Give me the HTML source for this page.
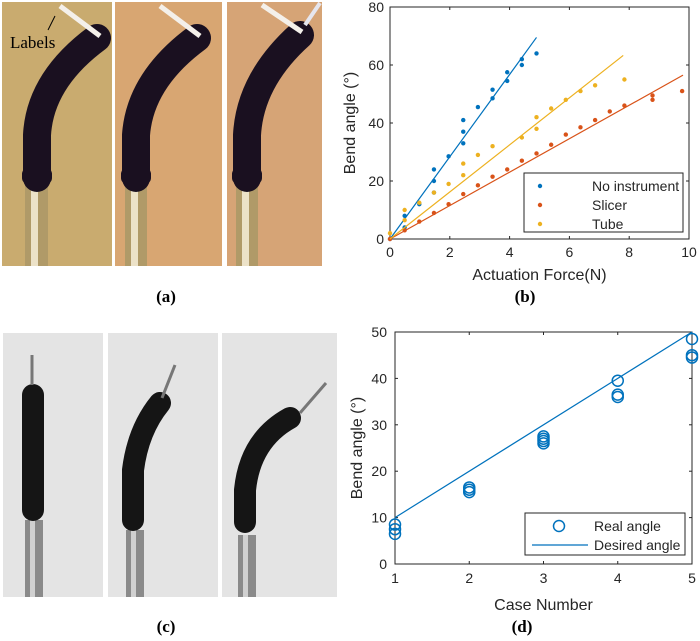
<!DOCTYPE html>
<html><head><meta charset="utf-8"><style>
html,body{margin:0;padding:0;background:#fff;width:700px;height:641px;overflow:hidden}
svg{position:absolute;left:0;top:0}
</style></head><body>
<svg width="700" height="641" viewBox="0 0 700 641" font-family="Liberation Sans, sans-serif">
<!-- photos (a) -->
<g>
<rect x="2" y="2" width="110" height="264" fill="#c9ab6f"/>
<rect x="25" y="185" width="23" height="81" fill="#b09a68"/><rect x="31" y="185" width="7" height="81" fill="#ece2c8"/>
<path d="M37 178 L37 135 Q40 80 97 38" stroke="#1a1020" stroke-width="28" fill="none" stroke-linecap="round"/>
<rect x="22" y="168" width="30" height="16" rx="6" fill="#1a1020"/>
<line x1="60" y1="6" x2="100" y2="36" stroke="#f4f0ea" stroke-width="5"/>
<line x1="55" y1="16" x2="48" y2="30" stroke="#000"/>
<text x="10" y="48" font-family="Liberation Serif, serif" font-size="17" fill="#000">Labels</text>
</g>
<g>
<rect x="115" y="2" width="107" height="264" fill="#d8a672"/>
<rect x="125" y="185" width="22" height="81" fill="#b09a68"/><rect x="131" y="185" width="7" height="81" fill="#ece2c8"/>
<path d="M136 178 L136 135 Q140 80 197 38" stroke="#1a1020" stroke-width="28" fill="none" stroke-linecap="round"/>
<rect x="121" y="168" width="30" height="16" rx="6" fill="#1a1020"/>
<line x1="160" y1="6" x2="200" y2="36" stroke="#f4f0ea" stroke-width="5"/>
</g>
<g>
<rect x="227" y="2" width="95" height="264" fill="#d6a476"/>
<rect x="236" y="185" width="22" height="81" fill="#b09a68"/><rect x="242" y="185" width="7" height="81" fill="#ece2c8"/>
<path d="M247 178 L247 135 Q250 80 300 35" stroke="#1a1020" stroke-width="28" fill="none" stroke-linecap="round"/>
<rect x="232" y="168" width="30" height="16" rx="6" fill="#1a1020"/>
<line x1="262" y1="5" x2="302" y2="32" stroke="#f4f0ea" stroke-width="5"/>
<line x1="305" y1="25" x2="320" y2="3" stroke="#e6e6ee" stroke-width="4"/>
</g>
<text x="166" y="302" text-anchor="middle" font-family="Liberation Serif, serif" font-weight="bold" font-size="17">(a)</text>
<!-- photos (c) -->
<g>
<rect x="3" y="333" width="100" height="264" fill="#e4e4e4"/>
<rect x="25" y="520" width="18" height="77" fill="#8a8a8a"/><rect x="30" y="520" width="5" height="77" fill="#d0d0d0"/>
<path d="M33 395 L33 510" stroke="#151515" stroke-width="22" fill="none" stroke-linecap="round"/>
<line x1="32" y1="385" x2="32" y2="355" stroke="#777" stroke-width="3"/>
</g>
<g>
<rect x="108" y="333" width="110" height="264" fill="#e4e4e4"/>
<rect x="126" y="530" width="18" height="67" fill="#8a8a8a"/><rect x="131" y="530" width="5" height="67" fill="#d0d0d0"/>
<path d="M133 520 L133 470 Q138 430 160 403" stroke="#151515" stroke-width="22" fill="none" stroke-linecap="round"/>
<line x1="162" y1="398" x2="175" y2="365" stroke="#777" stroke-width="3"/>
</g>
<g>
<rect x="222" y="333" width="115" height="264" fill="#e4e4e4"/>
<rect x="238" y="535" width="18" height="62" fill="#8a8a8a"/><rect x="243" y="535" width="5" height="62" fill="#d0d0d0"/>
<path d="M245 522 L245 490 Q250 440 290 418" stroke="#151515" stroke-width="22" fill="none" stroke-linecap="round"/>
<line x1="300" y1="413" x2="326" y2="383" stroke="#777" stroke-width="3"/>
</g>
<text x="166" y="632" text-anchor="middle" font-family="Liberation Serif, serif" font-weight="bold" font-size="17">(c)</text>
<g id="chartB"></g>
<g id="chartD"></g>
</svg>
<script>
const NS='http://www.w3.org/2000/svg';
function mk(p,t,a,txt){const e=document.createElementNS(NS,t);for(const k in a)e.setAttribute(k,a[k]);if(txt!==undefined)e.textContent=txt;p.appendChild(e);return e;}
// Chart B data
const bXTicks=[0,2,4,6,8,10];
const bYTicks=[0,20,40,60,80];
const noInstX=[0,0.49,0.49,0.98,1.47,1.47,1.47,1.96,2.45,2.45,2.45,2.94,3.43,3.43,3.92,3.92,4.41,4.41,4.9];
const noInstY=[0,8,4,12,24,20,16,28.5,41,37,33,45.5,51.5,48.5,57.5,54.5,62,60,64];
const slicerX=[0,0.49,0.98,1.47,1.96,2.45,2.94,3.43,3.92,4.41,4.9,5.39,5.88,6.37,6.86,7.35,7.84,8.78,8.78,9.77];
const slicerY=[0,3,6,9,12,15.5,18.5,21.5,24,27,29.5,32.5,36,38.5,41,44,46,49.5,48,51];
const tubeX=[0,0.49,0.49,0.98,1.47,1.96,2.45,2.45,2.94,3.43,4.41,4.9,4.9,5.39,5.88,6.37,6.86,7.84];
const tubeY=[2,10,6.5,12.5,16,19,26,22,29,32,35,42,38,45,48,51,53,55];
const fitNoInst=[[0,0],[4.9,69.5]];
const fitSlicer=[[0,0],[9.8,56.5]];
const fitTube=[[0,0],[7.8,63.3]];
// Chart D data
const dXTicks=[1,2,3,4,5];
const dYTicks=[0,10,20,30,40,50];
const realCase=[1,1,1,2,2,2,3,3,3,3,4,4,4,5,5,5];
const realAngle=[8.5,7.5,6.5,16.5,16,15.5,27.5,27,26.5,26,39.5,36.5,36,48.5,45,44.5];
const desiredCase=[1,5];
const desiredAngle=[10,50];

(function(){
const g=document.getElementById('chartB');
const L=390,R=689,T=7,B=239;
const sx=v=>L+(v-0)/10*(R-L), sy=v=>B-(v/80)*(B-T);
const ax=mk(g,'rect',{x:L,y:T,width:R-L,height:B-T,fill:'#fff',stroke:'#262626','stroke-width':1});

bXTicks.forEach(v=>{mk(g,'line',{x1:sx(v),x2:sx(v),y1:B,y2:B-3,stroke:'#262626'});mk(g,'line',{x1:sx(v),x2:sx(v),y1:T,y2:T+3,stroke:'#262626'});
 const t=mk(g,'text',{x:sx(v),y:B+18,'text-anchor':'middle','font-size':14,fill:'#262626'},v);
 });
bYTicks.forEach(v=>{mk(g,'line',{x1:L,x2:L+3,y1:sy(v),y2:sy(v),stroke:'#262626'});mk(g,'line',{x1:R,x2:R-3,y1:sy(v),y2:sy(v),stroke:'#262626'});
 const t=mk(g,'text',{x:L-6,y:sy(v)+5,'text-anchor':'end','font-size':14,fill:'#262626'},v);
 });
const xt=mk(g,'text',{x:(L+R)/2,y:280,'text-anchor':'middle','font-size':16,fill:'#262626'},'Actuation Force(N)');

const yt=mk(g,'text',{x:0,y:0,transform:`translate(355,${(T+B)/2}) rotate(-90)`,'text-anchor':'middle','font-size':16,fill:'#262626'},'Bend angle (°)');

const series=[[noInstX,noInstY,fitNoInst,'#0072bd','no-instrument'],[slicerX,slicerY,fitSlicer,'#d95319','slicer'],[tubeX,tubeY,fitTube,'#edb120','tube']];
series.forEach(([xs,ys,fit,c,n])=>{
 const l=mk(g,'line',{x1:sx(fit[0][0]),y1:sy(fit[0][1]),x2:sx(fit[1][0]),y2:sy(fit[1][1]),stroke:c,'stroke-width':1.2});
 
 xs.forEach((x,i)=>{const p=mk(g,'circle',{cx:sx(x),cy:sy(ys[i]),r:2.2,fill:c});
  });
});
const lg=mk(g,'g',{});

mk(lg,'rect',{x:524,y:173,width:159,height:59,fill:'#fff',stroke:'#262626'});
series.forEach(([a,b,c2,c,n],i)=>{
 const e=mk(lg,'g',{});
 mk(e,'circle',{cx:540,cy:186+i*19,r:2.2,fill:c});
 mk(e,'text',{x:592,y:191+i*19,'font-size':14,fill:'#262626'},['No instrument','Slicer','Tube'][i]);
});
const lb=mk(g,'text',{x:525,y:302,'text-anchor':'middle','font-family':'Liberation Serif, serif','font-weight':'bold','font-size':17},'(b)');

})();

(function(){
const g=document.getElementById('chartD');
const L=395,R=692,T=332,B=564;
const sx=v=>L+(v-1)/4*(R-L), sy=v=>B-(v/50)*(B-T);
const ax=mk(g,'rect',{x:L,y:T,width:R-L,height:B-T,fill:'#fff',stroke:'#262626','stroke-width':1});

dXTicks.forEach(v=>{mk(g,'line',{x1:sx(v),x2:sx(v),y1:B,y2:B-3,stroke:'#262626'});mk(g,'line',{x1:sx(v),x2:sx(v),y1:T,y2:T+3,stroke:'#262626'});
 const t=mk(g,'text',{x:sx(v),y:B+19,'text-anchor':'middle','font-size':14,fill:'#262626'},v);
 });
dYTicks.forEach(v=>{mk(g,'line',{x1:L,x2:L+3,y1:sy(v),y2:sy(v),stroke:'#262626'});mk(g,'line',{x1:R,x2:R-3,y1:sy(v),y2:sy(v),stroke:'#262626'});
 const t=mk(g,'text',{x:L-8,y:sy(v)+5,'text-anchor':'end','font-size':14,fill:'#262626'},v);
 });
const xt=mk(g,'text',{x:(L+R)/2,y:610,'text-anchor':'middle','font-size':16,fill:'#262626'},'Case Number');

const yt=mk(g,'text',{x:0,y:0,transform:`translate(362,${(T+B)/2}) rotate(-90)`,'text-anchor':'middle','font-size':16,fill:'#262626'},'Bend angle (°)');

const l=mk(g,'line',{x1:sx(desiredCase[0]),y1:sy(desiredAngle[0]),x2:sx(desiredCase[1]),y2:sy(desiredAngle[1]),stroke:'#0072bd','stroke-width':1.2});

realCase.forEach((c,i)=>{const p=mk(g,'circle',{cx:sx(c),cy:sy(realAngle[i]),r:5.5,fill:'none',stroke:'#0072bd','stroke-width':1.5});
 });
const lg=mk(g,'g',{});

mk(lg,'rect',{x:525,y:513,width:160,height:42,fill:'#fff',stroke:'#262626'});
const e1=mk(lg,'g',{});
mk(e1,'circle',{cx:559,cy:526,r:5.5,fill:'none',stroke:'#0072bd','stroke-width':1.5});
mk(e1,'text',{x:594,y:531,'font-size':14,fill:'#262626'},'Real angle');
const e2=mk(lg,'g',{});
mk(e2,'line',{x1:532,x2:588,y1:545,y2:545,stroke:'#0072bd','stroke-width':1.2});
mk(e2,'text',{x:594,y:550,'font-size':14,fill:'#262626'},'Desired angle');
const lb=mk(g,'text',{x:522,y:632,'text-anchor':'middle','font-family':'Liberation Serif, serif','font-weight':'bold','font-size':17},'(d)');

})();
</script>
</body></html>
